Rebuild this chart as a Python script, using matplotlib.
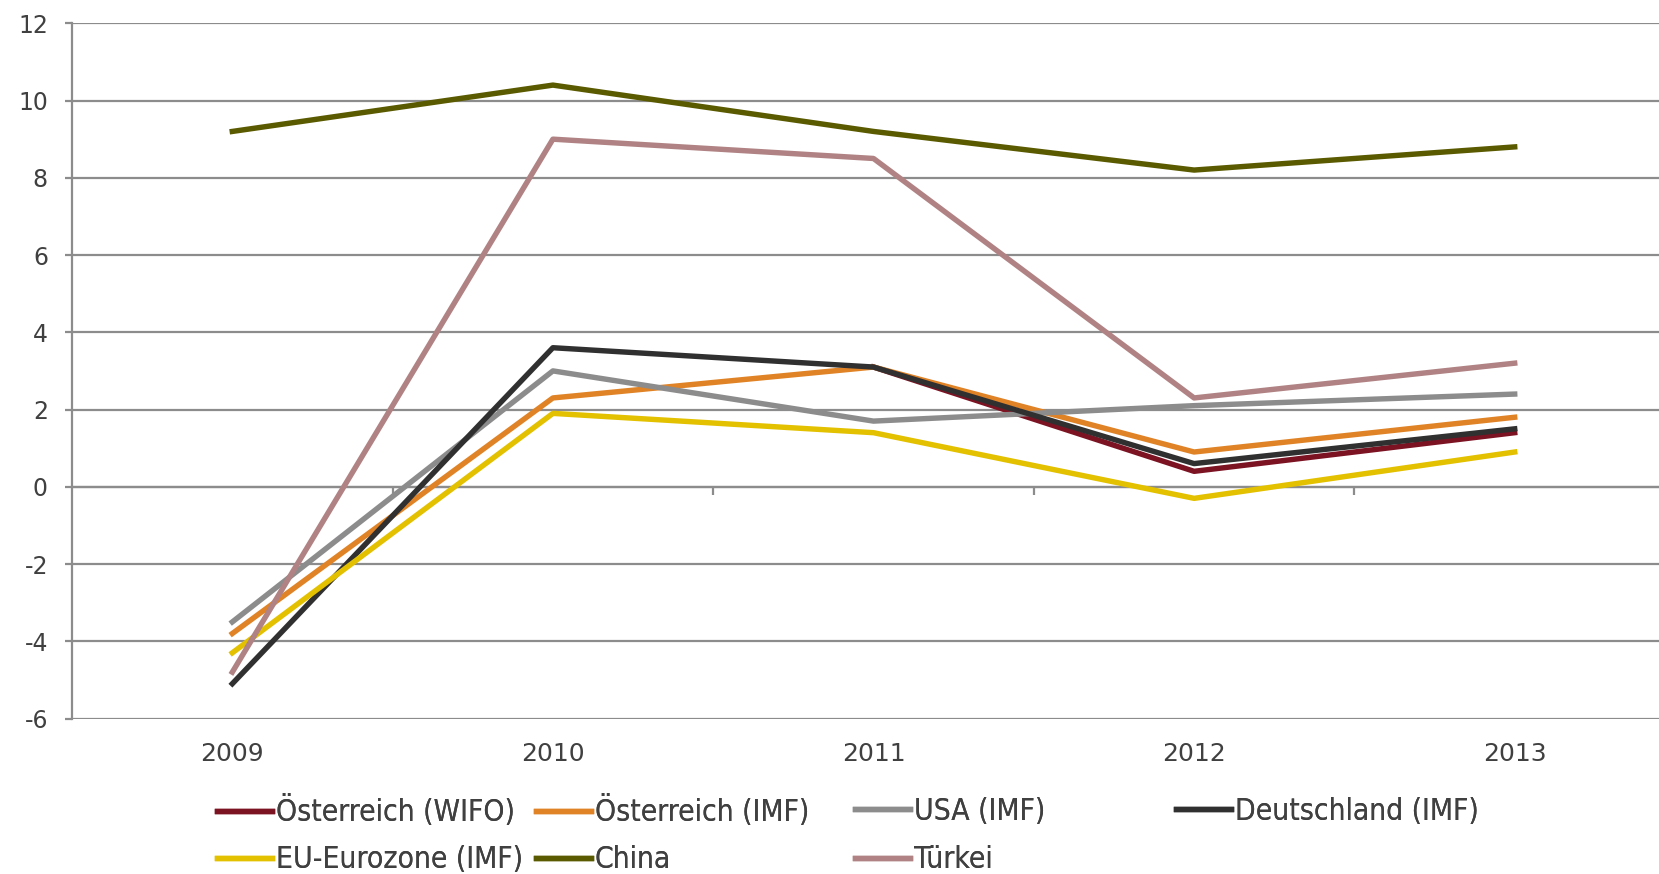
import numpy as np
import matplotlib.pyplot as plt

years = ['2009', '2010', '2011', '2012', '2013']
at_wifo = [np.nan, np.nan, 3.1, 0.4, 1.4]
at_imf = [-3.8, 2.3, 3.1, 0.9, 1.8]
usa = [-3.5, 3.0, 1.7, 2.1, 2.4]
de = [-5.1, 3.6, 3.1, 0.6, 1.5]
eu = [-4.3, 1.9, 1.4, -0.3, 0.9]
china = [9.2, 10.4, 9.2, 8.2, 8.8]
tuerkei = [-4.8, 9.0, 8.5, 2.3, 3.2]

names = ['Österreich (WIFO)', 'Österreich (IMF)', 'USA (IMF)', 'Deutschland (IMF)',
         'EU-Eurozone (IMF)', 'China', 'Türkei']
colors = ['#7B1323', '#E08326', '#8C8C8C', '#303030', '#E3C100', '#5A5A00', '#B08283']
series = [at_wifo, at_imf, usa, de, eu, china, tuerkei]

grid_col = '#8C8C8C'
text_col = '#404040'

fig = plt.figure(figsize=(16.59, 8.74), dpi=100)
ax = fig.add_axes([72 / 1659, (874 - 718.5) / 874, (1675 - 72) / 1659, (718.5 - 23.3) / 874])

x = np.arange(len(years))
lines = []
for vals, name, col in zip(series, names, colors):
    ln, = ax.plot(x, vals, color=col, lw=3.9, label=name)
    lines.append(ln)

ax.set_xlim(-0.5, 4.5)
ax.set_ylim(-6, 12)
ax.set_yticks(range(-6, 13, 2))
ax.set_yticklabels([str(v) for v in range(-6, 13, 2)])
ax.set_xticks(x)
ax.set_xticklabels(years)

ax.grid(axis='y', color=grid_col, lw=1.6)
ax.set_axisbelow(True)
for s in ['top', 'right', 'bottom']:
    ax.spines[s].set_visible(False)
ax.spines['left'].set_color(grid_col)
ax.spines['left'].set_linewidth(1.6)

ax.tick_params(axis='y', colors=text_col, labelsize=17, length=4.7, width=1.6,
               color=grid_col, pad=12.6)
ax.tick_params(axis='x', colors=text_col, labelsize=18, length=0, pad=17)

# category axis crossing at zero, tick marks between the categories
sec = ax.secondary_xaxis(6 / 18)
sec.set_xticks([0.5, 1.5, 2.5, 3.5])
sec.set_xticklabels([])
sec.tick_params(direction='out', length=6, width=1.6, color=grid_col)
sec.spines['bottom'].set_color(grid_col)
sec.spines['bottom'].set_linewidth(1.6)

# legend: evenly spaced grid of entries, 4 per row
col_x = [217, 536, 855, 1176]
row_y = [811, 860]
for i, ln in enumerate(lines):
    cx = col_x[i % 4]
    cy = row_y[i // 4]
    leg = fig.legend([ln], [names[i]], loc='center left',
                     bbox_to_anchor=(cx / 1659, 1 - cy / 874),
                     frameon=False, handlelength=1.85, handletextpad=0.12,
                     borderpad=0, borderaxespad=0,
                     prop={'family': 'DejaVu Sans', 'stretch': 'condensed', 'size': 21.5})
    for t in leg.get_texts():
        t.set_color(text_col)
    fig.add_artist(leg)

fig.savefig('out.png', dpi=100)
